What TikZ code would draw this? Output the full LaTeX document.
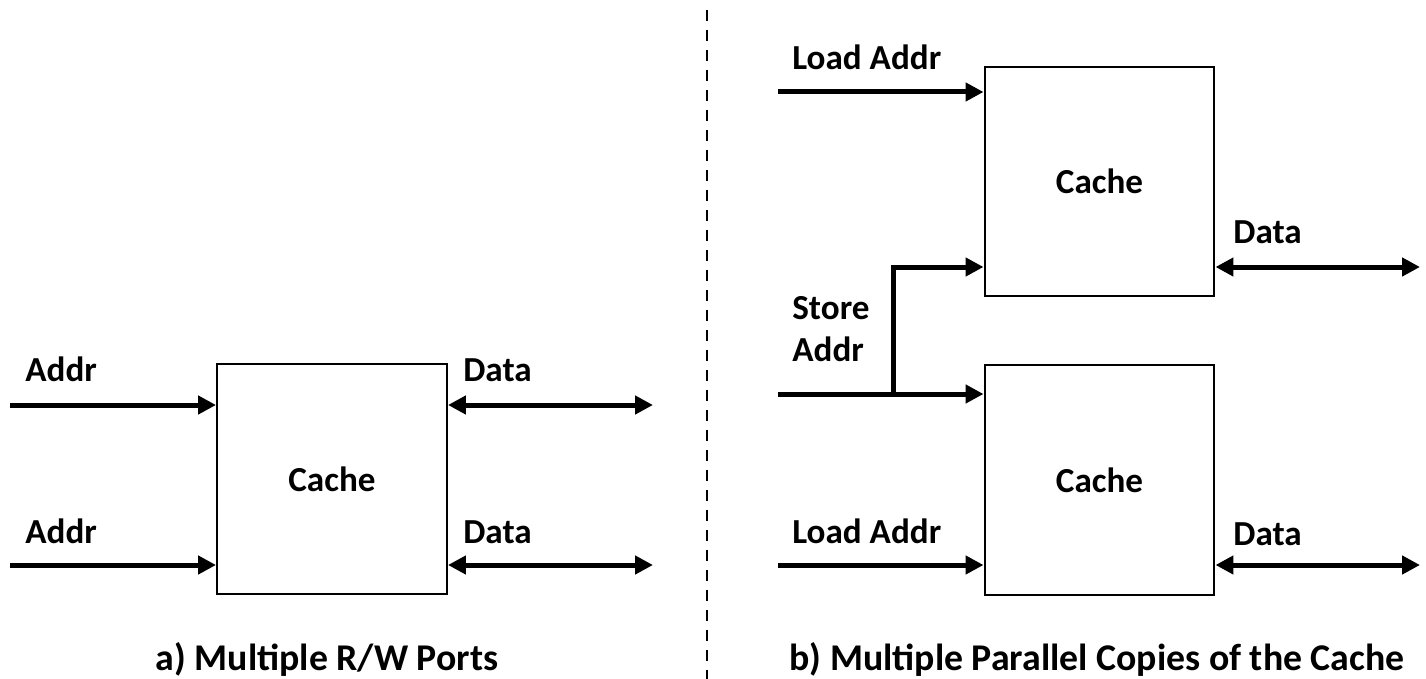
\documentclass[tikz,border=0pt]{standalone}
\usepackage{fontspec}
\setmainfont{Carlito}
\usetikzlibrary{arrows.meta,positioning}
\tikzset{
  cachebox/.style={draw,line width=0.04cm,minimum width=4.6cm,minimum height=4.6cm,inner sep=0pt,font=\fontsize{20}{24}\selectfont\bfseries},
  port/.style={line width=0.1cm,-{Triangle[length=0.36cm,width=0.36cm]}},
  biport/.style={line width=0.1cm,{Triangle[length=0.36cm,width=0.36cm]}-{Triangle[length=0.36cm,width=0.36cm]}},
  lbl/.style={anchor=base west,inner sep=0pt,font=\fontsize{20}{24}\selectfont\bfseries},
  caption/.style={anchor=base,inner sep=0pt,font=\fontsize{21.5}{26}\selectfont\bfseries}
}
\begin{document}
\begin{tikzpicture}[x=0.02cm,y=-0.02cm]
\useasboundingbox (0,0) rectangle (1426,679);
% a) one cache, two ports
\node[cachebox] (cacheA) at (332,479) {Cache};
\coordinate (inA1) at (10,405);
\coordinate (inA2) at (10,565);
\coordinate (outA1) at (653,405);
\coordinate (outA2) at (653,565);
\draw[port] (inA1) -- (inA1 -| cacheA.west);
\draw[port] (inA2) -- (inA2 -| cacheA.west);
\draw[biport] (outA1 -| cacheA.east) -- (outA1);
\draw[biport] (outA2 -| cacheA.east) -- (outA2);
\node[lbl] (addrA1) at (25,381) {Addr};
\node[lbl] (addrA2) at (25,543) {Addr};
\node[lbl] (dataA1) at (463,381) {Data};
\node[lbl] (dataA2) at (463,543) {Data};
\node[caption] (capA) at (327,670) {a) Multiple R/W Ports};
% separator
\draw[line width=0.05cm,dash pattern=on 0.22cm off 0.18cm] (707,10) -- (707,679);
% b) two copies
\node[cachebox] (cacheT) at (1099.5,181.5) {Cache};
\node[cachebox] (cacheB) at (1099.5,480) {Cache};
\coordinate (loadT) at (778,92);
\coordinate (store) at (778,394);
\coordinate (split) at (893,394);
\coordinate (bend) at (893,267);
\coordinate (loadB) at (778,565);
\coordinate (outT) at (1420,267);
\coordinate (outB) at (1420,565);
\draw[port] (loadT) -- (loadT -| cacheT.west);
\draw[port] (store) -- (store -| cacheB.west);
\draw[port] (split) -- (bend) -- (bend -| cacheT.west);
\draw[port] (loadB) -- (loadB -| cacheB.west);
\draw[biport] (outT -| cacheT.east) -- (outT);
\draw[biport] (outB -| cacheB.east) -- (outB);
\node[lbl] (loadTlbl) at (792,70) {Load Addr};
\node[lbl] (storelbl) at (792,319) {Store};
\node[lbl] (storeaddr) at (792,361) {Addr};
\node[lbl] (loadBlbl) at (792,543) {Load Addr};
\node[lbl] (dataT) at (1233,243) {Data};
\node[lbl] (dataB) at (1233,545) {Data};
\node[caption] (capB) at (1097,670) {b) Multiple Parallel Copies of the Cache};
\end{tikzpicture}
\end{document}
